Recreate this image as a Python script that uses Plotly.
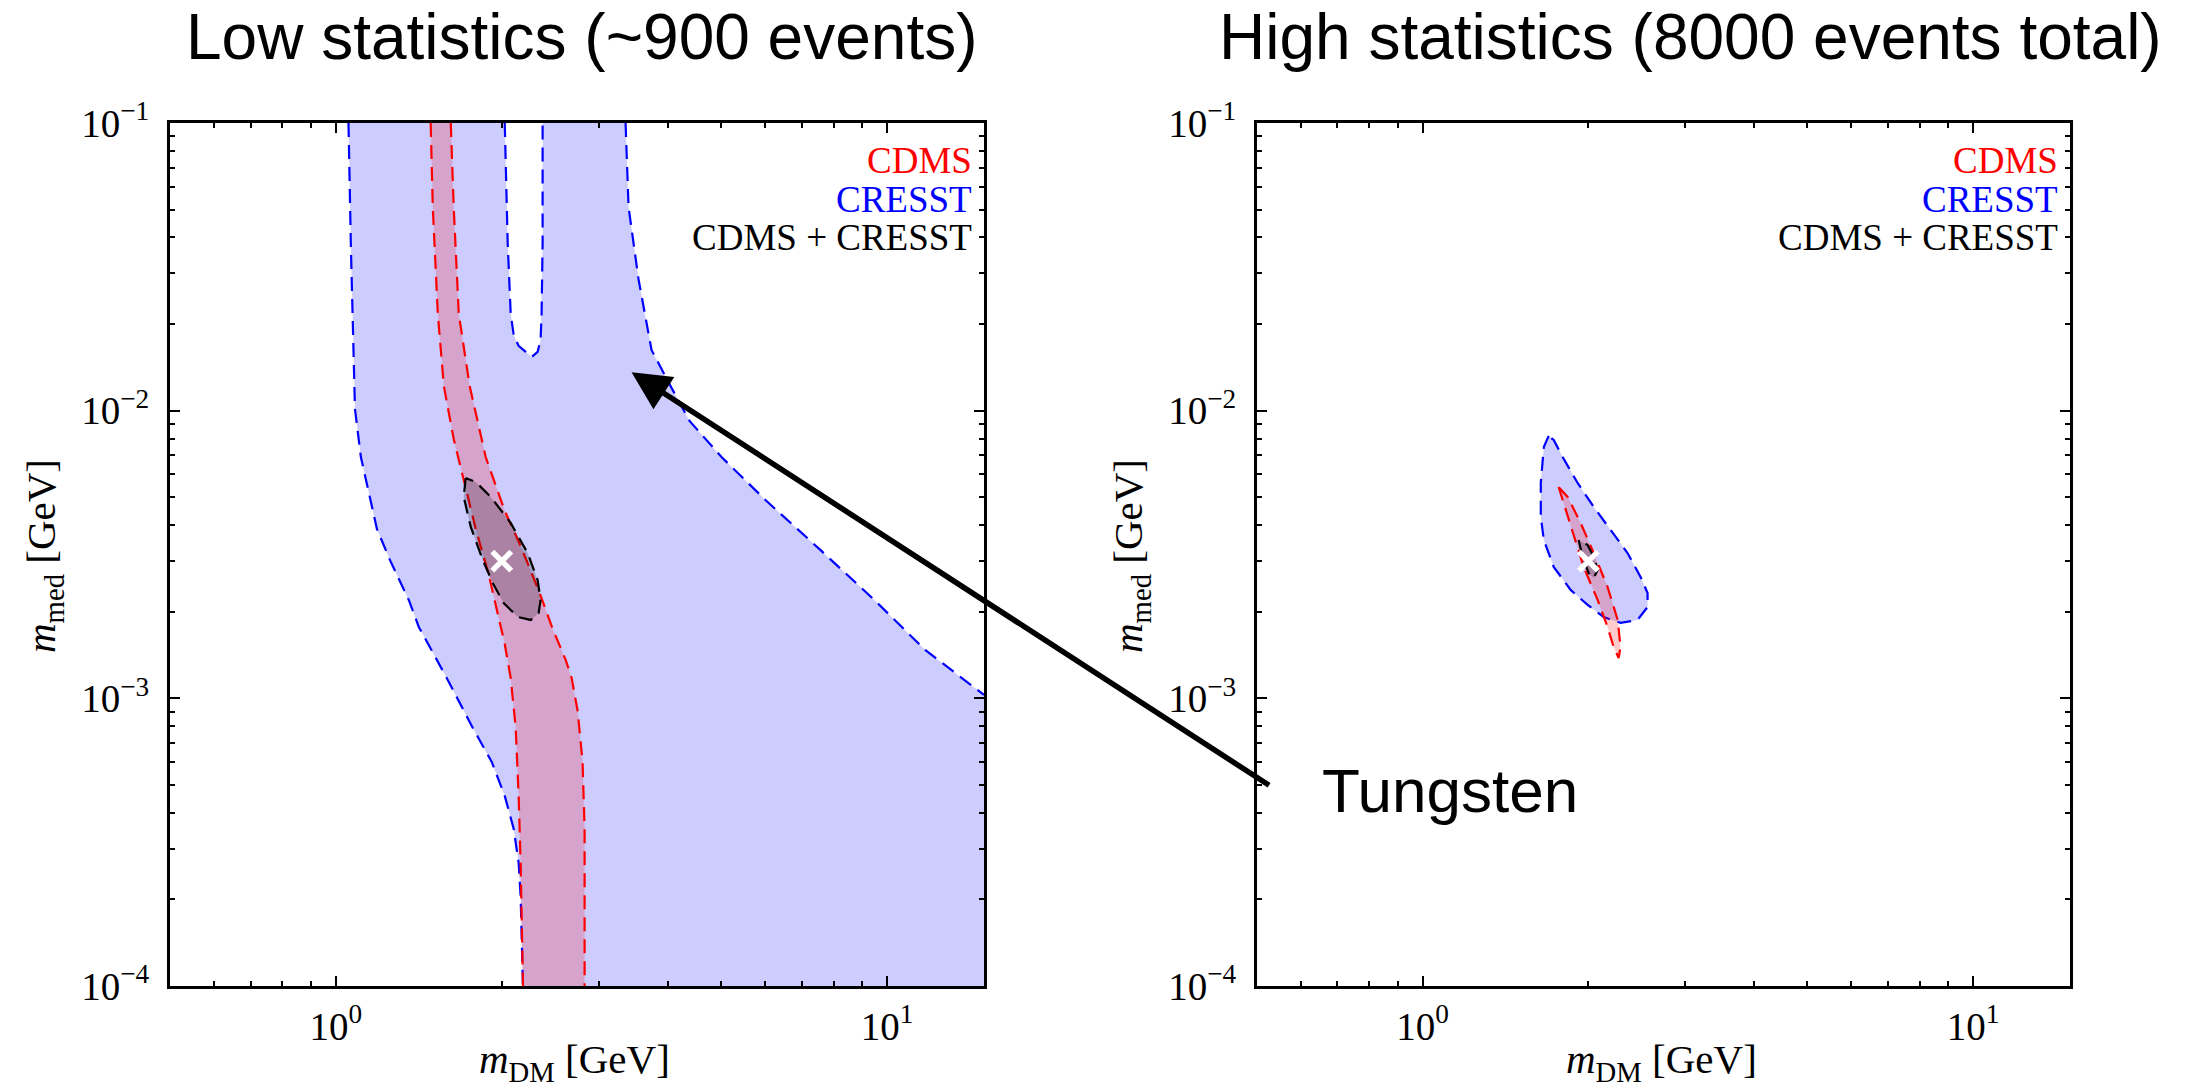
import numpy as np
import plotly.graph_objects as go

# Axis extents (GeV)
X_MIN, X_MAX = 0.5, 15.0
Y_MIN, Y_MAX = 1e-4, 1e-1

# ---------------- Low statistics panel ----------------
# CRESST region: left edge (top -> bottom)
cresst_lo_left_x = [1.054, 1.065, 1.083, 1.110, 1.187, 1.253, 1.356, 1.414, 1.589, 1.772, 1.918, 2.025, 2.102, 2.146, 2.164, 2.185]
cresst_lo_left_y = [0.1, 0.0362, 0.01014, 0.0069, 0.00388, 0.003029, 0.002198, 0.001771, 0.001177, 0.000789, 0.000601, 0.000458, 0.000352, 0.000268, 0.000204, 0.0001]
# CRESST region: right edge (top -> right border)
cresst_lo_right_x = [3.355, 3.397, 3.541, 3.739, 4.048, 4.383, 5.009, 6.018, 7.570, 9.484, 11.73, 15.0]
cresst_lo_right_y = [0.1, 0.05105, 0.02869, 0.01626, 0.01218, 0.009209, 0.0069, 0.004893, 0.00328, 0.002198, 0.001473, 0.001027]
# CRESST region: excluded notch at the top
cresst_lo_notch_x = [2.025, 2.050, 2.076, 2.102, 2.146, 2.266, 2.323, 2.352, 2.362, 2.372, 2.372]
cresst_lo_notch_y = [0.1, 0.03827, 0.02168, 0.01833, 0.01679, 0.01537, 0.016, 0.01761, 0.02168, 0.03827, 0.1]

# CDMS band: left and right edges (top -> bottom)
cdms_lo_left_x = [1.486, 1.499, 1.531, 1.570, 1.636, 1.699, 1.794, 1.894, 2.025, 2.076, 2.120, 2.146, 2.164, 2.185]
cdms_lo_left_y = [0.1, 0.05105, 0.02168, 0.01218, 0.007972, 0.005976, 0.00388, 0.002685, 0.001545, 0.001177, 0.000789, 0.000458, 0.000268, 0.0001]
cdms_lo_right_x = [1.616, 1.636, 1.671, 1.749, 1.870, 2.025, 2.164, 2.343, 2.474, 2.612, 2.678, 2.746, 2.803, 2.827, 2.827]
cdms_lo_right_y = [0.1, 0.05105, 0.02168, 0.01218, 0.0069, 0.004481, 0.003386, 0.002324, 0.001742, 0.00136, 0.001177, 0.000904, 0.000601, 0.000352, 0.0001]

# CDMS + CRESST combined region
comb_lo_x = [1.720, 1.706, 1.757, 1.847, 1.926, 2.016, 2.138, 2.257, 2.333, 2.352, 2.323, 2.228, 2.076, 1.910, 1.794]
comb_lo_y = [0.005834, 0.005012, 0.003942, 0.003029, 0.002519, 0.002145, 0.001918, 0.001873, 0.00198, 0.002198, 0.00258, 0.003201, 0.004071, 0.005012, 0.005651]

# ---------------- High statistics panel ----------------
cresst_hi_x = [1.694, 1.660, 1.639, 1.639, 1.660, 1.730, 1.857, 1.994, 2.132, 2.288, 2.457, 2.562, 2.562, 2.488, 2.356, 2.194, 2.045, 1.912, 1.796, 1.730]
cresst_hi_y = [0.00817, 0.007478, 0.005607, 0.004271, 0.003554, 0.002862, 0.002381, 0.002112, 0.001918, 0.001829, 0.001873, 0.002078, 0.002324, 0.002642, 0.003201, 0.003848, 0.004627, 0.005607, 0.0069, 0.007912]

cdms_hi_x = [1.766, 1.796, 1.873, 1.961, 2.079, 2.167, 2.223, 2.270, 2.288, 2.261, 2.167, 2.045, 1.936, 1.834]
cdms_hi_y = [0.005429, 0.004893, 0.003757, 0.002862, 0.002198, 0.001771, 0.001509, 0.001381, 0.001509, 0.001873, 0.002439, 0.003201, 0.004071, 0.005012]

comb_hi_x = [1.920, 1.952, 2.002, 2.045, 2.079, 2.045, 1.994]
comb_hi_y = [0.003554, 0.0031, 0.002729, 0.002621, 0.002795, 0.0031, 0.003413]

# Benchmark point (m_DM, m_med)
best_fit_x = [2.0]
best_fit_y = [0.003]

# Point the "Tungsten" arrow at, in the low-statistics panel
arrow_target = (3.44, 0.0136)

# Tick marks
x_major = [1, 10]
x_major_text = ["10<sup>0</sup>", "10<sup>1</sup>"]
y_major = [1e-4, 1e-3, 1e-2, 1e-1]
y_major_text = ["10<sup>\u22124</sup>", "10<sup>\u22123</sup>", "10<sup>\u22122</sup>", "10<sup>\u22121</sup>"]

panel_titles = ["Low statistics (~900 events)", "High statistics (8000 events total)"]
legend_labels = ["CDMS", "CRESST", "CDMS + CRESST"]

BLUE, RED, BLACK = "#0000ff", "#ff0000", "#000000"
BLUE_FILL = "rgba(0,0,255,0.2)"
RED_FILL = "rgba(255,0,0,0.2)"
BLACK_FILL = "rgba(0,0,0,0.2)"
DASH = "14px,8px"
SERIF = "Liberation Serif"
SANS = "Liberation Sans"

W, H = 2190, 1088
fig = go.Figure()


def fill(xs, ys, color, xa, ya):
    fig.add_trace(go.Scatter(x=xs, y=ys, mode="lines", fill="toself", fillcolor=color,
                             line=dict(width=0), hoverinfo="skip", showlegend=False,
                             xaxis=xa, yaxis=ya))


def dashed(xs, ys, color, xa, ya):
    fig.add_trace(go.Scatter(x=xs, y=ys, mode="lines",
                             line=dict(color=color, width=2.2, dash=DASH),
                             hoverinfo="skip", showlegend=False, xaxis=xa, yaxis=ya))


def closed(a):
    return list(a) + [a[0]]


# ---- low statistics: CRESST ----
blue_x = (cresst_lo_left_x + [X_MAX] + cresst_lo_right_x[::-1] + cresst_lo_notch_x[::-1])
blue_y = (cresst_lo_left_y + [Y_MIN] + cresst_lo_right_y[::-1] + cresst_lo_notch_y[::-1])
fill(blue_x, blue_y, BLUE_FILL, "x", "y")
dashed(cresst_lo_left_x, cresst_lo_left_y, BLUE, "x", "y")
dashed(cresst_lo_right_x, cresst_lo_right_y, BLUE, "x", "y")
dashed(cresst_lo_notch_x, cresst_lo_notch_y, BLUE, "x", "y")

# ---- low statistics: CDMS ----
fill(cdms_lo_left_x + cdms_lo_right_x[::-1], cdms_lo_left_y + cdms_lo_right_y[::-1], RED_FILL, "x", "y")
dashed(cdms_lo_left_x, cdms_lo_left_y, RED, "x", "y")
dashed(cdms_lo_right_x, cdms_lo_right_y, RED, "x", "y")

# ---- low statistics: combined ----
fill(comb_lo_x, comb_lo_y, BLACK_FILL, "x", "y")
dashed(closed(comb_lo_x), closed(comb_lo_y), BLACK, "x", "y")

# ---- high statistics ----
fill(cresst_hi_x, cresst_hi_y, BLUE_FILL, "x2", "y2")
dashed(closed(cresst_hi_x), closed(cresst_hi_y), BLUE, "x2", "y2")
fill(cdms_hi_x, cdms_hi_y, RED_FILL, "x2", "y2")
dashed(closed(cdms_hi_x), closed(cdms_hi_y), RED, "x2", "y2")
fill(comb_hi_x, comb_hi_y, BLACK_FILL, "x2", "y2")
dashed(closed(comb_hi_x), closed(comb_hi_y), BLACK, "x2", "y2")

# benchmark markers
for xa, ya in (("x", "y"), ("x2", "y2")):
    fig.add_trace(go.Scatter(x=best_fit_x, y=best_fit_y, mode="markers",
                             marker=dict(symbol="x-thin", size=19,
                                         line=dict(color="white", width=5.5)),
                             hoverinfo="skip", showlegend=False, xaxis=xa, yaxis=ya))

# ---- axes ----
x_domains = [[170 / W, 984 / W], [1257 / W, 2070 / W]]
y_domain = [1 - 986 / H, 1 - 123 / H]


def axis_common():
    return dict(type="log", showline=True, linecolor="black", linewidth=3, mirror="ticks",
                ticks="inside", ticklen=10, tickwidth=2, tickcolor="black",
                showgrid=False, zeroline=False, automargin=False,
                tickfont=dict(family=SERIF, size=39, color="black"),
                minor=dict(dtick="D1", ticks="inside", ticklen=5, tickwidth=2,
                           tickcolor="black", showgrid=False))


for i, dom in enumerate(x_domains):
    sfx = "" if i == 0 else "2"
    xa = axis_common()
    xa.update(domain=dom, anchor="y" + sfx, range=[np.log10(X_MIN), np.log10(X_MAX)],
              tickmode="array", tickvals=x_major, ticktext=x_major_text, ticklabelstandoff=4)
    ya = axis_common()
    ya.update(domain=y_domain, anchor="x" + sfx, range=[np.log10(Y_MIN), np.log10(Y_MAX)],
              tickmode="array", tickvals=y_major, ticktext=y_major_text, ticklabelstandoff=10)
    fig.update_layout(**{"xaxis" + sfx: xa, "yaxis" + sfx: ya})

annotations = []
title_x = [581, 1690]
xlabel_x = [574, 1661]
ylabel_x = [44, 1131]
for i in range(2):
    sfx = "" if i == 0 else "2"
    annotations.append(dict(text=panel_titles[i], x=title_x[i] / W, y=1 - 37 / H,
                            xref="paper", yref="paper", xanchor="center", yanchor="middle",
                            showarrow=False, font=dict(family=SANS, size=64, color="black")))
    annotations.append(dict(text="<i>m</i><sub>DM</sub> [GeV]", x=xlabel_x[i] / W, y=1 - 1062 / H,
                            xref="paper", yref="paper", xanchor="center", yanchor="middle",
                            showarrow=False, font=dict(family=SERIF, size=41, color="black")))
    annotations.append(dict(text="<i>m</i><sub>med</sub> [GeV]", x=ylabel_x[i] / W, y=1 - 556 / H,
                            xref="paper", yref="paper", xanchor="center", yanchor="middle",
                            textangle=-90, showarrow=False,
                            font=dict(family=SERIF, size=41, color="black")))
    for label, color, yd in zip(legend_labels, [RED, BLUE, BLACK], [0.9565, 0.9114, 0.8673]):
        annotations.append(dict(text=label, x=0.988, y=yd, xref="x" + sfx + " domain",
                                yref="y" + sfx + " domain", xanchor="right", yanchor="middle",
                                showarrow=False, font=dict(family=SERIF, size=37, color=color)))

annotations.append(dict(text="Tungsten", x=1320 / W, y=1 - 790 / H, xref="paper", yref="paper",
                        xanchor="left", yanchor="middle", showarrow=False,
                        font=dict(family=SANS, size=62, color="black")))
annotations.append(dict(text="", x=np.log10(arrow_target[0]), y=np.log10(arrow_target[1]),
                        xref="x", yref="y", ax=639, ay=414, axref="pixel", ayref="pixel",
                        showarrow=True, arrowhead=2, arrowsize=1.4, arrowwidth=5.5,
                        arrowcolor="black"))

fig.update_layout(width=W, height=H, autosize=False, margin=dict(l=0, r=0, t=0, b=0),
                  paper_bgcolor="white", plot_bgcolor="white", showlegend=False,
                  annotations=annotations)

fig.write_html("out.html")
